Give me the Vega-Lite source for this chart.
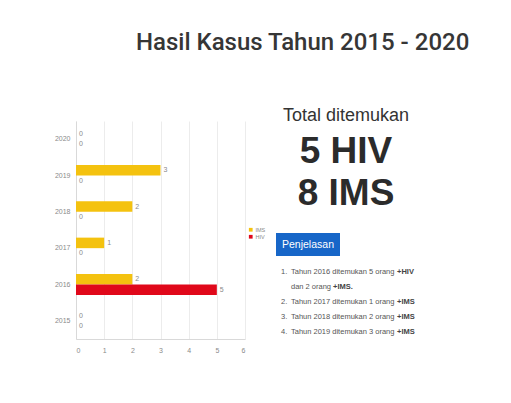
{
  "$schema": "https://vega.github.io/schema/vega-lite/v6.json",
  "background": "white",
  "padding": {"left": 54, "top": 31, "right": 0, "bottom": 0},
  "title": {
    "text": "Hasil Kasus Tahun 2015 - 2020",
    "anchor": "start",
    "frame": "group",
    "dx": 60,
    "offset": 52,
    "font": "Roboto",
    "fontWeight": 500,
    "fontSize": 24,
    "color": "#363636"
  },
  "datasets": {
    "kasus": [
      {"tahun": "2015", "jenis": "IMS", "jumlah": 0},
      {"tahun": "2015", "jenis": "HIV", "jumlah": 0},
      {"tahun": "2016", "jenis": "IMS", "jumlah": 2},
      {"tahun": "2016", "jenis": "HIV", "jumlah": 5},
      {"tahun": "2017", "jenis": "IMS", "jumlah": 1},
      {"tahun": "2017", "jenis": "HIV", "jumlah": 0},
      {"tahun": "2018", "jenis": "IMS", "jumlah": 2},
      {"tahun": "2018", "jenis": "HIV", "jumlah": 0},
      {"tahun": "2019", "jenis": "IMS", "jumlah": 3},
      {"tahun": "2019", "jenis": "HIV", "jumlah": 0},
      {"tahun": "2020", "jenis": "IMS", "jumlah": 0},
      {"tahun": "2020", "jenis": "HIV", "jumlah": 0}
    ],
    "penjelasan": [
      {"baris": 1, "nomor": "1.", "teks": "Tahun 2016 ditemukan 5 orang", "tebal": "+HIV"},
      {"baris": 2, "nomor": "", "teks": "dan 2 orang", "tebal": "+IMS."},
      {"baris": 3, "nomor": "2.", "teks": "Tahun 2017 ditemukan 1 orang", "tebal": "+IMS"},
      {"baris": 4, "nomor": "3.", "teks": "Tahun 2018 ditemukan 2 orang", "tebal": "+IMS"},
      {"baris": 5, "nomor": "4.", "teks": "Tahun 2019 ditemukan 3 orang", "tebal": "+IMS"}
    ],
    "kotak": [{"judul": "Penjelasan"}]
  },
  "bounds": "flush",
  "spacing": 31,
  "hconcat": [
    {
      "width": 169,
      "height": 218,
      "data": {"name": "kasus"},
      "encoding": {
        "y": {
          "field": "tahun",
          "type": "nominal",
          "sort": "descending",
          "scale": {"paddingInner": 0.42, "paddingOuter": 0.21},
          "axis": {
            "title": null,
            "ticks": false,
            "labelFontSize": 7,
            "labelColor": "#8a8a8a",
            "labelPadding": 6,
            "domainColor": "#d9d9d9",
            "grid": false
          }
        },
        "yOffset": {"field": "jenis", "type": "nominal", "sort": ["IMS", "HIV"]},
        "x": {
          "field": "jumlah",
          "type": "quantitative",
          "scale": {"domain": [0, 6], "nice": false},
          "axis": {
            "title": null,
            "values": [0, 1, 2, 3, 4, 5, 6],
            "ticks": false,
            "labelFontSize": 7,
            "labelColor": "#8a8a8a",
            "labelPadding": 7,
            "gridColor": "#ececec",
            "domainColor": "#d9d9d9"
          }
        }
      },
      "layer": [
        {
          "mark": {"type": "bar"},
          "encoding": {
            "color": {
              "field": "jenis",
              "type": "nominal",
              "scale": {"domain": ["IMS", "HIV"], "range": ["#f4c20f", "#e0081a"]},
              "legend": {
                "title": null,
                "orient": "none",
                "legendX": 172,
                "legendY": 106,
                "symbolType": "square",
                "symbolSize": 14,
                "symbolStrokeWidth": 0,
                "labelFontSize": 5.5,
                "labelColor": "#888888",
                "rowPadding": 0,
                "labelOffset": 2
              }
            }
          }
        },
        {
          "mark": {"type": "text", "align": "left", "dx": 3, "fontSize": 7, "color": "#8a8a8a"},
          "encoding": {"text": {"field": "jumlah", "type": "quantitative"}}
        }
      ]
    },
    {
      "bounds": "flush",
      "spacing": 8,
      "vconcat": [
        {
          "width": 140,
          "height": 104,
          "title": {
            "text": "Total ditemukan",
            "frame": "group",
            "anchor": "middle",
            "baseline": "alphabetic",
            "offset": 0,
            "dy": 18,
            "fontSize": 18,
            "fontWeight": "normal",
            "color": "#333333"
          },
          "data": {"name": "kasus"},
          "transform": [
            {"aggregate": [{"op": "sum", "field": "jumlah", "as": "total"}], "groupby": ["jenis"]},
            {"calculate": "datum.total + ' ' + datum.jenis", "as": "label"}
          ],
          "mark": {"type": "text", "fontSize": 37, "fontWeight": "bold", "color": "#2b2b2b", "baseline": "middle"},
          "encoding": {
            "y": {
              "field": "jenis",
              "type": "nominal",
              "sort": ["HIV", "IMS"],
              "scale": {"type": "point", "padding": 0.73},
              "axis": null
            },
            "text": {"field": "label"}
          }
        },
        {
          "width": 64,
          "height": 23,
          "view": {"fill": "#1766c8", "stroke": null},
          "data": {"name": "kotak"},
          "mark": {"type": "text", "fontSize": 10.5, "color": "white", "baseline": "middle"},
          "encoding": {"text": {"field": "judul"}}
        },
        {
          "width": 137,
          "height": 75,
          "data": {"name": "penjelasan"},
          "encoding": {
            "y": {
              "field": "baris",
              "type": "ordinal",
              "scale": {"type": "point", "padding": 0.5},
              "axis": null
            },
            "x": {"value": 0}
          },
          "layer": [
            {
              "mark": {"type": "text", "align": "left", "baseline": "middle", "dx": 5, "fontSize": 7.5, "color": "#555555"},
              "encoding": {"text": {"field": "nomor"}}
            },
            {
              "mark": {"type": "text", "align": "left", "baseline": "middle", "dx": 15, "fontSize": 7.5, "color": "#555555"},
              "encoding": {"text": {"field": "teks"}}
            },
            {
              "transform": [{"filter": "datum.baris != 2"}],
              "mark": {"type": "text", "align": "left", "baseline": "middle", "dx": 121, "fontSize": 7.5, "fontWeight": "bold", "color": "#444444"},
              "encoding": {"text": {"field": "tebal"}}
            },
            {
              "transform": [{"filter": "datum.baris == 2"}],
              "mark": {"type": "text", "align": "left", "baseline": "middle", "dx": 57, "fontSize": 7.5, "fontWeight": "bold", "color": "#444444"},
              "encoding": {"text": {"field": "tebal"}}
            }
          ]
        }
      ]
    }
  ],
  "config": {
    "view": {"stroke": null},
    "font": "Liberation Sans"
  }
}
